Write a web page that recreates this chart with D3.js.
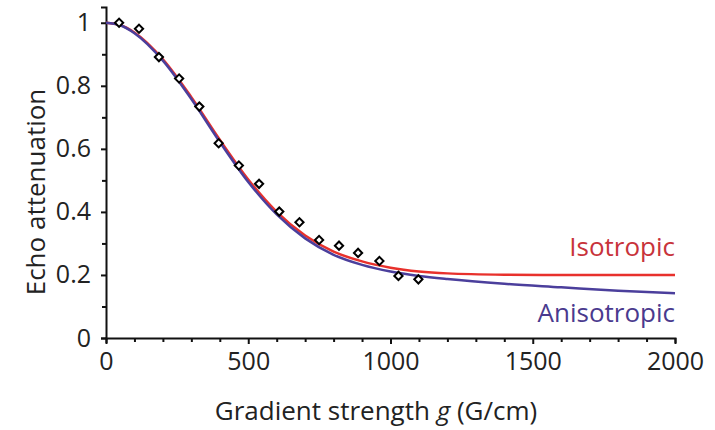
<!DOCTYPE html>
<html>
<head>
<meta charset="utf-8">
<script src="https://cdn.jsdelivr.net/npm/d3@7"></script>
<style>
  body { margin: 0; background: #fff; }
  svg { display: block; }
  .axis path, .axis line { stroke: #111; }
  .axis text { font-family: "Open Sans", sans-serif; fill: #222; }
</style>
</head>
<body>
<div id="chart"></div>
<script>
// measured points (diamonds)
const pointG = [46, 116, 186, 257, 328, 396, 467, 538, 609, 680, 749, 819, 886, 961, 1028, 1098];
const pointE = [1.0, 0.981, 0.891, 0.823, 0.734, 0.618, 0.547, 0.489, 0.401, 0.367, 0.311, 0.293, 0.27, 0.244, 0.197, 0.186];

// fitted curves
const isoG = [0, 50, 100, 200, 300, 400, 500, 600, 700, 800, 900, 1000, 1100, 1200, 1400, 1600, 2000];
const isoE = [1.0, 0.993, 0.969, 0.884, 0.764, 0.629, 0.503, 0.400, 0.325, 0.274, 0.243, 0.223, 0.211, 0.205, 0.201, 0.200, 0.200];
const anisoG = [0, 50, 100, 200, 300, 400, 500, 600, 700, 800, 900, 1000, 1100, 1200, 1400, 1600, 1800, 2000];
const anisoE = [1.0, 0.992, 0.967, 0.880, 0.758, 0.622, 0.495, 0.392, 0.316, 0.264, 0.232, 0.211, 0.197, 0.187, 0.172, 0.161, 0.150, 0.142];

const xTicks = d3.range(0, 2001, 100);
const yTicks = d3.range(0, 1.0001, 0.1);

const width = 715, height = 430;
const margin = { top: 7, right: 40, bottom: 92, left: 106 };

const svg = d3.select('#chart')
    .append('svg')
    .attr('width', width)
    .attr('height', height);

const xScale = d3.scaleLinear()
    .domain([0, 2000])
    .range([margin.left, 675]);

const yScale = d3.scaleLinear()
    .domain([0, 1.05])
    .range([338, margin.top]);

const font = '"Open Sans", sans-serif';

// x axis
const xAxis = svg.append('g')
    .attr('class', 'axis')
    .attr('transform', 'translate(0, 338)')
    .call(d3.axisBottom(xScale)
        .tickValues(xTicks)
        .tickSizeOuter(0)
        .tickSize(5)
        .tickPadding(9)
        .tickFormat(d => d % 500 === 0 ? d : ''));
xAxis.select('.domain').attr('stroke-width', 2);
xAxis.selectAll('.tick line').attr('stroke-width', 2)
    .attr('y2', d => d % 500 === 0 ? 6 : 4);
xAxis.selectAll('text').style('font-size', '25px');

// y axis
const yAxis = svg.append('g')
    .attr('class', 'axis')
    .attr('transform', `translate(${margin.left}, 0)`)
    .call(d3.axisLeft(yScale)
        .tickValues(yTicks)
        .tickSizeOuter(0)
        .tickSize(5)
        .tickPadding(10)
        .tickFormat((d, i) => i % 2 === 0 ? d3.format('~g')(+d.toFixed(1)) : ''));
yAxis.select('.domain').attr('stroke-width', 2);
yAxis.selectAll('.tick line').attr('stroke-width', 2)
    .attr('x2', (d, i) => i % 2 === 0 ? -5 : -4);
yAxis.selectAll('text').style('font-size', '25px');

// axis titles
svg.append('text')
    .attr('x', 376)
    .attr('y', 420)
    .attr('text-anchor', 'middle')
    .style('font-family', font)
    .style('font-size', '26px')
    .style('fill', '#222')
    .html('Gradient strength <tspan font-style="italic">g</tspan> (G/cm)');

svg.append('text')
    .attr('transform', 'translate(45, 192) rotate(-90)')
    .attr('text-anchor', 'middle')
    .style('font-family', font)
    .style('font-size', '26px')
    .style('fill', '#222')
    .text('Echo attenuation');

// curves
const line = d3.line()
    .x(d => xScale(d[0]))
    .y(d => yScale(d[1]))
    .curve(d3.curveMonotoneX);

const series = [
    { name: 'Isotropic', g: isoG, e: isoE, color: '#e8312c', label: '#c8333b', ly: 256 },
    { name: 'Anisotropic', g: anisoG, e: anisoE, color: '#4b3f9c', label: '#4a3a8e', ly: 322 }
];

series.forEach(s => {
    svg.append('path')
        .attr('d', line(s.g.map((g, i) => [g, s.e[i]])))
        .attr('fill', 'none')
        .attr('stroke', s.color)
        .attr('stroke-width', 2.5);
});

series.forEach(s => {
    svg.append('text')
        .attr('x', 675)
        .attr('y', s.ly)
        .attr('text-anchor', 'end')
        .style('font-family', font)
        .style('font-size', '26px')
        .style('fill', s.label)
        .text(s.name);
});

// data points
svg.selectAll('.dot')
    .data(pointG.map((g, i) => [g, pointE[i]]))
    .enter()
    .append('path')
    .attr('class', 'dot')
    .attr('d', d3.symbol(d3.symbolSquare, 34))
    .attr('transform', d => `translate(${xScale(d[0])}, ${yScale(d[1])}) rotate(45)`)
    .attr('fill', 'white')
    .attr('stroke', '#000')
    .attr('stroke-width', 2);
</script>
</body>
</html>
